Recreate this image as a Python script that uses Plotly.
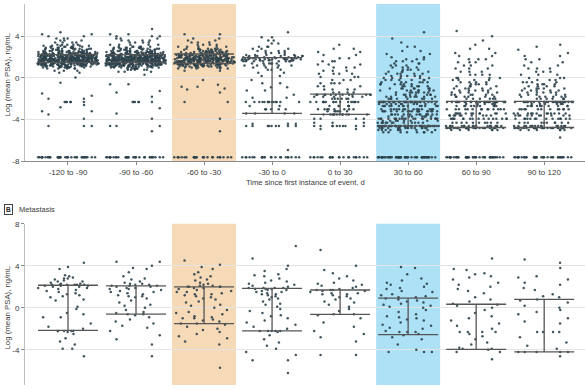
import math
import plotly.graph_objects as go

# ---------------- data ----------------
CATEGORIES = ["-120 to -90", "-90 to -60", "-60 to -30", "-30 to 0",
              "0 to 30", "30 to 60", "60 to 90", "90 to 120"]

# Panel A: (log mean PSA value, number of patients) pairs per interval
TOP_1 = [(-7.6, 36), (-4.6, 3), (-3.9, 1), (-3.5, 1), (-3.2, 2), (-2.8, 1), (-2.6, 1), (-2.3, 6),
         (-2.0, 2), (-1.7, 1), (-1.5, 1), (-0.45, 1), (0.05, 1),
         (0.5, 2), (0.7, 3), (0.9, 5), (1.0, 8), (1.1, 12), (1.2, 16), (1.3, 22), (1.4, 28),
         (1.5, 32), (1.6, 34), (1.7, 34), (1.8, 34), (1.9, 32), (2.0, 32), (2.1, 30), (2.2, 26),
         (2.3, 22), (2.4, 17), (2.5, 14), (2.6, 11), (2.7, 9), (2.8, 8), (2.9, 7), (3.0, 6),
         (3.1, 5), (3.2, 5), (3.4, 4), (3.6, 3), (3.8, 3), (4.0, 2), (4.2, 2), (4.4, 1)]
TOP_2 = [(-7.6, 32), (-5.1, 1), (-4.6, 3), (-3.9, 1), (-3.4, 1), (-2.9, 1), (-2.3, 6), (-1.8, 1),
         (-1.4, 1), (-1.25, 1), (-0.6, 2), (0.3, 1),
         (0.6, 3), (0.8, 5), (0.9, 6), (1.0, 9), (1.1, 12), (1.2, 17), (1.3, 23), (1.4, 28),
         (1.5, 32), (1.6, 34), (1.7, 34), (1.8, 33), (1.9, 32), (2.0, 31), (2.1, 28), (2.2, 25),
         (2.3, 20), (2.4, 16), (2.5, 13), (2.6, 11), (2.7, 9), (2.8, 8), (2.9, 7), (3.0, 6),
         (3.2, 5), (3.4, 4), (3.6, 4), (3.8, 3), (4.0, 3), (4.2, 2), (4.7, 1)]
TOP_3 = [(-7.6, 26), (-5.1, 1), (-3.9, 1), (-2.3, 2), (-1.4, 1), (-1.1, 1), (-1.0, 1), (-0.85, 2),
         (-0.65, 1), (-0.2, 1),
         (0.7, 2), (0.9, 4), (1.0, 6), (1.1, 9), (1.2, 13), (1.3, 17), (1.4, 20), (1.5, 22),
         (1.6, 22), (1.7, 22), (1.8, 22), (1.9, 21), (2.0, 20), (2.1, 18), (2.2, 16), (2.3, 14),
         (2.4, 11), (2.5, 9), (2.6, 8), (2.7, 7), (2.8, 6), (3.0, 5), (3.2, 4), (3.4, 3),
         (3.6, 2), (3.8, 2), (4.2, 2)]
TOP_4 = [(-7.6, 22), (-6.9, 1), (-4.6, 9), (-4.4, 3), (-3.4, 4), (-3.0, 5), (-2.7, 2), (-2.3, 14),
         (-1.9, 2), (-1.6, 1), (-1.2, 2), (-0.9, 2), (-0.5, 2), (-0.2, 1), (0.2, 2), (0.5, 2),
         (0.8, 3), (1.0, 3), (1.2, 5), (1.4, 6), (1.6, 8), (1.7, 9), (1.8, 10), (1.9, 9),
         (2.0, 7), (2.1, 6), (2.2, 5), (2.4, 4), (2.6, 4), (2.8, 3), (3.0, 3), (3.3, 2),
         (3.6, 2), (3.9, 2), (4.4, 1)]
TOP_5 = [(-7.6, 22), (-4.9, 2), (-4.6, 10), (-4.3, 3), (-3.9, 4), (-3.5, 12), (-3.2, 6), (-3.0, 8),
         (-2.7, 6), (-2.3, 16), (-2.0, 6), (-1.8, 5), (-1.6, 12), (-1.4, 4), (-1.1, 4), (-0.8, 3),
         (-0.5, 4), (-0.2, 3), (0.1, 3), (0.4, 4), (0.7, 3), (1.0, 3), (1.3, 3), (1.6, 3),
         (1.9, 2), (2.2, 2), (2.5, 2), (2.8, 2), (3.2, 1)]
TOP_6 = [(-7.6, 50), (-5.2, 8), (-5.0, 10), (-4.8, 16), (-4.6, 45), (-4.3, 12), (-4.1, 8), (-3.9, 20),
         (-3.7, 8), (-3.5, 15), (-3.2, 18), (-3.0, 14), (-2.7, 14), (-2.5, 10), (-2.3, 32),
         (-2.0, 8), (-1.8, 8), (-1.6, 8), (-1.4, 7), (-1.2, 7), (-1.0, 7), (-0.8, 6), (-0.6, 6),
         (-0.4, 6), (-0.2, 6), (0.0, 5), (0.2, 5), (0.4, 5), (0.6, 4), (0.8, 4), (1.0, 4),
         (1.2, 3), (1.4, 3), (1.6, 3), (1.8, 3), (2.0, 2), (2.3, 2), (2.6, 2), (3.0, 2),
         (3.4, 1), (3.8, 1), (4.4, 1)]
TOP_7 = [(-7.6, 40), (-5.0, 6), (-4.8, 30), (-4.6, 18), (-4.3, 10), (-3.9, 16), (-3.6, 10), (-3.4, 12),
         (-3.0, 14), (-2.7, 10), (-2.5, 6), (-2.3, 28),
         (-2.0, 6), (-1.8, 6), (-1.6, 6), (-1.4, 5), (-1.2, 5), (-1.0, 5), (-0.8, 4), (-0.6, 4),
         (-0.4, 4), (-0.2, 4), (0.0, 4), (0.3, 4), (0.6, 3), (0.9, 3), (1.2, 3), (1.5, 3),
         (1.8, 3), (2.1, 2), (2.4, 2), (2.8, 2), (3.2, 1), (3.6, 1), (4.0, 1), (4.5, 1)]
TOP_8 = [(-7.6, 36), (-5.7, 1), (-5.0, 6), (-4.8, 28), (-4.6, 16), (-4.3, 10), (-3.9, 14), (-3.6, 10),
         (-3.4, 12), (-3.0, 12), (-2.7, 10), (-2.5, 6), (-2.3, 26),
         (-2.0, 6), (-1.8, 6), (-1.6, 5), (-1.4, 5), (-1.2, 5), (-1.0, 5), (-0.8, 4), (-0.6, 4),
         (-0.4, 4), (-0.2, 3), (0.0, 3), (0.3, 3), (0.6, 3), (0.9, 3), (1.2, 2), (1.5, 2),
         (1.8, 2), (2.1, 2), (2.4, 1), (2.7, 1), (3.0, 1), (3.2, 1)]

# Panel A interquartile range (lower and upper lines)
TOP_Q1 = [1.5, 1.5, 1.4, -3.4, -3.5, -4.6, -4.75, -4.75]
TOP_Q3 = [2.25, 2.25, 2.3, 1.95, -1.55, -2.25, -2.25, -2.25]

# Panel B (Metastasis): individual values per interval
BOT_1 = [4.3, 3.9, 3.7, 3.1, 3.0, 2.9, 2.8, 2.8, 2.7, 2.6, 2.5, 2.5, 2.4, 2.3, 2.3, 2.2, 2.2, 2.2,
         2.2, 2.2, 2.2, 2.1, 2.1, 2.1, 2.0, 2.0, 1.9, 1.9, 1.8, 1.7, 1.6, 1.5, 1.4, 1.3, 1.2, 1.1,
         1.0, 0.8, 0.7, 0.1, -0.1, -0.5, -0.6, -0.9, -0.9, -1.5, -1.8, -2.0, -2.2, -2.2, -2.2,
         -2.2, -2.2, -2.3, -2.5, -2.9, -3.2, -3.5, -3.9, -3.9, -4.6]
BOT_2 = [4.4, 4.4, 4.0, 3.8, 3.7, 3.4, 3.0, 2.8, 2.7, 2.5, 2.4, 2.3, 2.3, 2.2, 2.2, 2.1, 2.1, 2.1,
         2.0, 2.0, 1.9, 1.9, 1.8, 1.8, 1.7, 1.6, 1.5, 1.5, 1.4, 1.3, 1.2, 1.1, 1.1, 1.0, 0.9, 0.7,
         0.5, 0.3, 0.2, 0.0, -0.2, -0.4, -0.5, -0.6, -0.6, -0.7, -0.9, -1.1, -1.3, -1.5, -1.7,
         -1.9, -2.2, -2.6, -3.0, -3.5, -4.6]
BOT_3 = [4.5, 4.1, 3.9, 3.7, 3.4, 3.2, 3.0, 2.9, 2.7, 2.6, 2.4, 2.3, 2.2, 2.1, 2.1, 2.0, 2.0, 2.0,
         2.0, 1.9, 1.9, 1.8, 1.7, 1.6, 1.5, 1.5, 1.4, 1.3, 1.3, 1.2, 1.1, 1.0, 0.9, 0.8, 0.6, 0.5,
         0.3, 0.2, 0.0, -0.2, -0.4, -0.5, -0.6, -0.8, -0.9, -1.0, -1.0, -1.1, -1.2, -1.3, -1.5,
         -1.5, -1.6, -1.8, -2.0, -2.1, -2.3, -2.5, -2.7, -2.9, -3.2, -3.5, -5.7]
BOT_4 = [5.9, 4.7, 4.0, 3.7, 3.5, 3.2, 3.1, 3.0, 2.8, 2.6, 2.5, 2.4, 2.3, 2.2, 2.1, 2.0, 1.9, 1.9,
         1.9, 1.9, 1.8, 1.8, 1.8, 1.7, 1.7, 1.6, 1.5, 1.5, 1.4, 1.3, 1.3, 1.2, 1.1, 1.0, 0.9, 0.8,
         0.6, 0.4, 0.3, 0.1, -0.1, -0.3, -0.5, -0.7, -0.8, -1.0, -1.2, -1.4, -1.6, -1.8, -2.0,
         -2.2, -2.2, -2.2, -2.2, -2.2, -2.3, -2.6, -3.0, -3.3, -3.6, -3.9, -4.2, -4.5, -5.0,
         -5.0, -6.2]
BOT_5 = [5.5, 4.0, 3.6, 3.3, 3.0, 2.8, 2.6, 2.4, 2.3, 2.2, 2.1, 2.0, 1.9, 1.8, 1.7, 1.7, 1.7, 1.6,
         1.6, 1.5, 1.4, 1.4, 1.3, 1.3, 1.2, 1.1, 1.0, 0.9, 0.8, 0.6, 0.5, 0.3, 0.1, -0.1, -0.3,
         -0.6, -0.6, -0.7, -1.0, -1.4, -1.8, -2.2, -2.5, -2.8, -3.2, -4.5, -4.5]
BOT_6 = [3.9, 3.8, 3.2, 2.8, 2.6, 2.4, 2.3, 2.2, 2.0, 1.9, 1.8, 1.6, 1.5, 1.3, 1.2, 1.1, 1.0, 1.0,
         0.9, 0.8, 0.7, 0.6, 0.5, 0.4, 0.3, 0.2, 0.1, 0.0, -0.2, -0.4, -0.6, -0.8, -0.9, -1.0,
         -1.1, -1.2, -1.4, -1.6, -1.7, -1.9, -2.0, -2.2, -2.3, -2.3, -2.3, -2.5, -2.6, -2.8,
         -3.0, -3.5, -4.0, -4.2, -4.2, -4.2]
BOT_7 = [4.7, 3.7, 3.6, 3.3, 3.2, 3.0, 2.9, 2.7, 2.4, 2.2, 2.0, 1.8, 1.6, 1.4, 1.0, 0.8, 0.6, 0.4,
         0.3, 0.2, 0.0, -0.2, -0.5, -0.8, -1.0, -1.2, -1.5, -1.7, -2.0, -2.3, -2.3, -2.3, -2.3,
         -2.5, -2.7, -3.0, -3.3, -3.5, -3.8, -3.9, -3.9, -4.0, -4.2, -4.2, -4.9]
BOT_8 = [4.6, 4.3, 3.8, 3.0, 2.9, 2.7, 2.4, 2.2, 1.9, 1.7, 1.3, 1.1, 1.0, 0.8, 0.7, 0.5, 0.2, 0.0,
         -0.2, -0.4, -0.6, -1.0, -1.3, -1.5, -2.3, -2.3, -2.3, -2.3, -2.8, -3.3, -3.6, -3.9,
         -4.2, -4.2, -4.2, -4.2, -4.2, -4.6]

# Panel B interquartile range
BOT_Q1 = [-2.15, -0.6, -1.5, -2.2, -0.62, -2.55, -3.95, -4.2]
BOT_Q3 = [2.15, 2.1, 2.0, 1.85, 1.7, 0.93, 0.34, 0.8]

HIGHLIGHT_ORANGE = "-60 to -30"
HIGHLIGHT_BLUE = "30 to 60"

# ---------------- styling ----------------
FONT = "Liberation Sans, Arial, sans-serif"
TXT = "#3a3a3a"
PT_COLOR = "#2d424d"
IQR_COLOR = "#555555"
GRID = "#e4e4e4"
ORANGE = "#F6D9B7"
BLUE = "#ADE2F6"
PT_SIZE = 2.5
BAND = 2.0  # points are jittered in value bands so sparse points spread too

fig = go.Figure()


def add_points(cat, vals, xa, ya):
    if not vals:
        return
    fig.add_trace(go.Box(
        x=[cat] * len(vals), y=vals, xaxis=xa, yaxis=ya,
        boxpoints="all", jitter=1, pointpos=0, width=0.9,
        fillcolor="rgba(0,0,0,0)", line=dict(color="rgba(0,0,0,0)", width=0),
        marker=dict(color=PT_COLOR, size=PT_SIZE, opacity=0.9),
        whiskerwidth=0, showlegend=False, hoverinfo="y"))


def banded(vals):
    groups = {}
    for v in vals:
        groups.setdefault(math.floor(v / BAND), []).append(v)
    return [groups[k] for k in sorted(groups)]


top_sets = [TOP_1, TOP_2, TOP_3, TOP_4, TOP_5, TOP_6, TOP_7, TOP_8]
bot_sets = [BOT_1, BOT_2, BOT_3, BOT_4, BOT_5, BOT_6, BOT_7, BOT_8]

# panel A: undetectable stripe, dense rows and sparse points jittered separately
for cat, pairs in zip(CATEGORIES, top_sets):
    undet, dense, sparse = [], [], []
    for v, n in pairs:
        if v < -7:
            undet.extend([v] * n)
        elif n >= 6:
            dense.extend([v] * n)
        else:
            sparse.extend([v] * n)
    add_points(cat, undet, "x", "y")
    add_points(cat, dense, "x", "y")
    for grp in banded(sparse):
        add_points(cat, grp, "x", "y")

for cat, vals in zip(CATEGORIES, bot_sets):
    for grp in banded(vals):
        add_points(cat, grp, "x2", "y2")

# IQR bars (lower line, vertical connector, upper line) drawn as error bars
for q1, q3, xa, ya in [(TOP_Q1, TOP_Q3, "x", "y"), (BOT_Q1, BOT_Q3, "x2", "y2")]:
    fig.add_trace(go.Scatter(
        x=CATEGORIES, y=q1, xaxis=xa, yaxis=ya, mode="markers",
        marker=dict(size=1, color="rgba(0,0,0,0)"),
        error_y=dict(type="data", symmetric=False,
                     array=[b - a for a, b in zip(q1, q3)],
                     arrayminus=[0] * len(q1),
                     width=30, thickness=1.3, color=IQR_COLOR),
        showlegend=False, hoverinfo="skip"))

# highlighted interval bands
shapes = []
for cat, col in [(HIGHLIGHT_ORANGE, ORANGE), (HIGHLIGHT_BLUE, BLUE)]:
    i = CATEGORIES.index(cat)
    for xr, yr in [("x", "y domain"), ("x2", "y2 domain")]:
        shapes.append(dict(type="rect", xref=xr, yref=yr, x0=i - 0.47, x1=i + 0.47,
                           y0=0, y1=1, fillcolor=col, line=dict(width=0), layer="below"))

XRANGE = [-0.632, 7.6]
tickfont = dict(family=FONT, size=8, color=TXT)

fig.update_layout(
    width=585, height=390,
    margin=dict(l=25, r=0, t=0, b=0),
    paper_bgcolor="white", plot_bgcolor="white",
    font=dict(family=FONT, color=TXT),
    shapes=shapes,
    xaxis=dict(domain=[0, 1], anchor="y", type="category", categoryorder="array",
               categoryarray=CATEGORIES, range=XRANGE,
               showline=True, linecolor="#8a8a8a", linewidth=1,
               ticks="outside", ticklen=3, tickcolor="#8a8a8a",
               showgrid=False, tickfont=tickfont),
    yaxis=dict(domain=[0.587, 1.0], anchor="x", range=[-8, 7.1],
               tickvals=[-8, -4, 0, 4], ticktext=["-8", "-4", "0", "4"],
               showline=True, linecolor="#bdbdbd", linewidth=1,
               ticks="outside", ticklen=3, tickcolor="#8a8a8a",
               showgrid=True, gridcolor=GRID, gridwidth=1,
               zeroline=False, tickfont=tickfont),
    xaxis2=dict(domain=[0, 1], anchor="y2", type="category", categoryorder="array",
                categoryarray=CATEGORIES, range=XRANGE,
                showline=False, ticks="", showticklabels=False, showgrid=False),
    yaxis2=dict(domain=[0, 0.423], anchor="x2", range=[-7.35, 8],
                tickvals=[-4, 0, 4, 8], ticktext=["-4", "0", "4", "8"],
                showline=True, linecolor="#bdbdbd", linewidth=1,
                ticks="outside", ticklen=3, tickcolor="#8a8a8a",
                showgrid=True, gridcolor=GRID, gridwidth=1,
                zeroline=False, tickfont=tickfont),
    annotations=[
        dict(text="Log (mean PSA), ng/mL", xref="paper", yref="y", x=-0.031, y=0.3,
             textangle=-90, showarrow=False, xanchor="center", yanchor="middle",
             font=dict(family=FONT, size=7.8, color=TXT)),
        dict(text="Log (mean PSA), ng/mL", xref="paper", yref="y2", x=-0.031, y=0,
             textangle=-90, showarrow=False, xanchor="center", yanchor="middle",
             font=dict(family=FONT, size=7.8, color=TXT)),
        dict(text="Time since first instance of event, d", xref="paper", yref="paper",
             x=0.5, y=0.531, showarrow=False, xanchor="center", yanchor="middle",
             font=dict(family=FONT, size=7.6, color=TXT)),
        dict(text="<b>B</b>", xref="paper", yref="paper", x=-0.0295, y=0.4615,
             showarrow=False, xanchor="center", yanchor="middle",
             bordercolor="#444", borderwidth=1, borderpad=1,
             font=dict(family=FONT, size=6.5, color="#222")),
        dict(text="Metastasis", xref="paper", yref="paper", x=-0.0143, y=0.4615,
             showarrow=False, xanchor="left", yanchor="middle",
             font=dict(family=FONT, size=7.5, color=TXT)),
    ],
)

fig.write_html("out.html", config={"displayModeBar": False},
               post_script="document.body.style.margin='0';")
